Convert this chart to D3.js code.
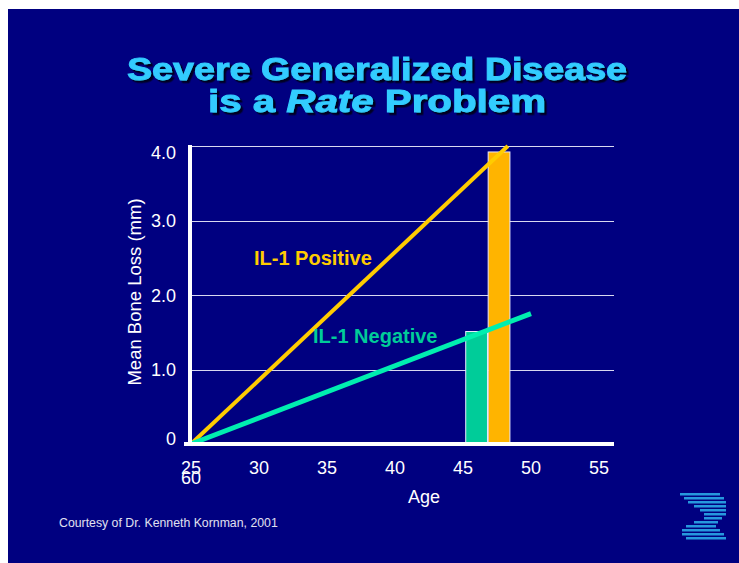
<!DOCTYPE html>
<html><head><meta charset="utf-8">
<script src="https://cdn.jsdelivr.net/npm/d3@7"></script>
<style>html,body{margin:0;padding:0;background:#fff;}svg{display:block;}</style>
</head><body>
<script>
// ---- data ----
const titleLines = ["Severe Generalized Disease", "is a Rate Problem"];
const yTicks = [0, 1.0, 2.0, 3.0, 4.0];
const yTickLabels = ["0", "1.0", "2.0", "3.0", "4.0"];
const xTicks = [25, 30, 35, 40, 45, 50, 55];
const xTickLabels = ["25", "30", "35", "40", "45", "50", "55"];
const seriesNames = ["IL-1 Positive", "IL-1 Negative"];
const positiveLine = [[25, 0], [48.3, 4.0]];
const negativeLine = [[25, 0], [50, 1.75]];
const barAges = [46.0, 47.65];
const barValues = [1.51, 3.92];
const barWidthYears = 1.6;
const footnote = "Courtesy of Dr. Kenneth Kornman, 2001";

const W = 739, H = 563;
const svg = d3.select("body").append("svg").attr("width", W).attr("height", H);
const defs = svg.append("defs");
const f = defs.append("filter").attr("id", "shadow").attr("x", "-5%").attr("y", "-20%").attr("width", "110%").attr("height", "150%");
f.append("feDropShadow").attr("dx", 2.5).attr("dy", 2.5).attr("stdDeviation", 0.3).attr("flood-color", "#000020").attr("flood-opacity", 1);

svg.append("rect").attr("x", 8).attr("y", 9).attr("width", W - 8).attr("height", H - 9).attr("fill", "#000080");

const x = d3.scaleLinear().domain([25, 55]).range([191, 599]);
const y = d3.scaleLinear().domain([0, 4]).range([444, 146]);

// title
const tg = svg.append("g").attr("font-family", "Liberation Sans, Arial, sans-serif").attr("font-weight", "bold")
  .attr("font-size", 31).attr("filter", "url(#shadow)");
function titleLine(parts, ty, len) {
  const t = tg.append("text").attr("x", 377).attr("y", ty).attr("text-anchor", "middle").attr("fill", "#33ccff")
    .attr("stroke", "#33ccff").attr("stroke-width", 0.9).attr("textLength", len).attr("lengthAdjust", "spacingAndGlyphs");
  parts.forEach(p => t.append("tspan").attr("font-style", p.i ? "italic" : "normal").text(p.t));
}
titleLine([{t: titleLines[0]}], 80, 500);
const l2 = titleLines[1].split("Rate");
titleLine([{t: l2[0]}, {t: "Rate", i: true}, {t: l2[1]}], 112, 338);

// gridlines
svg.append("g").selectAll("line").data(yTicks.filter(d => d > 0)).join("line")
  .attr("x1", 191).attr("x2", 614).attr("y1", d => Math.round(y(d)) + 0.5).attr("y2", d => Math.round(y(d)) + 0.5)
  .attr("stroke", "#d8d8f0").attr("stroke-width", 1.2);

// y axis labels
const fontAxis = "Liberation Sans, Arial, sans-serif";
svg.append("g").selectAll("text").data(yTicks).join("text")
  .attr("x", 176).attr("y", d => Math.min(Math.max(y(d), 152), 438) + 6.5).attr("text-anchor", "end")
  .attr("font-family", fontAxis).attr("font-size", 18).attr("fill", "#fff")
  .text((d, i) => yTickLabels[i]);
svg.append("text").attr("transform", "translate(141,292) rotate(-90)").attr("text-anchor", "middle")
  .attr("font-family", fontAxis).attr("font-size", 18.5).attr("fill", "#fff").text("Mean Bone Loss (mm)");

// bars
const bw = x(25 + barWidthYears) - x(25);
svg.append("g").selectAll("rect").data(barAges).join("rect")
  .attr("x", d => x(d) - bw / 2).attr("y", (d, i) => y(barValues[i]))
  .attr("width", bw).attr("height", (d, i) => y(0) - y(barValues[i]))
  .attr("fill", (d, i) => i === 0 ? "#00cc99" : "#ffb400")
  .attr("stroke", "#e8e8ff").attr("stroke-width", 1);

// lines
const lineGen = d3.line().x(d => x(d[0])).y(d => y(d[1]));
svg.append("path").attr("d", lineGen(positiveLine)).attr("stroke", "#ffcc00").attr("stroke-width", 4).attr("fill", "none");
svg.append("path").attr("d", lineGen(negativeLine)).attr("stroke", "#00eeb0").attr("stroke-width", 5).attr("fill", "none");

// axes lines
svg.append("rect").attr("x", 188).attr("y", 145).attr("width", 4).attr("height", 300).attr("fill", "#fff");
svg.append("rect").attr("x", 184).attr("y", 442).attr("width", 430).attr("height", 4).attr("fill", "#fff");

// x labels
svg.append("g").selectAll("text").data(xTicks).join("text")
  .attr("x", d => x(d)).attr("y", 474).attr("text-anchor", "middle")
  .attr("font-family", fontAxis).attr("font-size", 18).attr("fill", "#fff")
  .text((d, i) => xTickLabels[i]);
svg.append("text").attr("x", x(25)).attr("y", 484).attr("text-anchor", "middle")
  .attr("font-family", fontAxis).attr("font-size", 18).attr("fill", "#fff").text("60");
svg.append("text").attr("x", 424).attr("y", 503).attr("text-anchor", "middle")
  .attr("font-family", fontAxis).attr("font-size", 18).attr("fill", "#fff").text("Age");

// series labels
svg.append("text").attr("x", 254).attr("y", 265).attr("font-family", fontAxis).attr("font-weight", "bold")
  .attr("font-size", 20).attr("fill", "#ffcc00").text(seriesNames[0]);
svg.append("text").attr("x", 313).attr("y", 343).attr("font-family", fontAxis).attr("font-weight", "bold")
  .attr("font-size", 20).attr("fill", "#00cc99").text(seriesNames[1]);

// footnote
svg.append("text").attr("x", 59).attr("y", 527).attr("font-family", fontAxis).attr("font-size", 12.3)
  .attr("fill", "#e0e0f0").text(footnote);

// logo (decorative helix stripes)
const logo = svg.append("g");
const stripes = [[680,493,40],[684,497,40],[688,501,38],[694,505,32],[700,509,26],[704,513,22],[704,517,18],[694,521,24],[686,525,30],[682,529,38],[682,533,42],[686,537,40]];
stripes.forEach(s => {
  logo.append("rect").attr("x", s[0]).attr("y", s[1]).attr("width", s[2]).attr("height", 2.5)
    .attr("fill", "#2aa8e8").attr("opacity", 0.9);
});
</script>
</body></html>
